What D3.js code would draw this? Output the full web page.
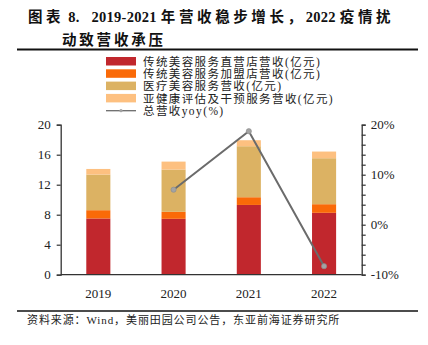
<!DOCTYPE html>
<html>
<head>
<meta charset="utf-8">
<script src="https://cdn.jsdelivr.net/npm/d3@7"></script>
<style>
  body { margin: 0; background: #fff; }
  text { font-family: "Liberation Serif", "Noto Sans CJK SC", serif; white-space: pre; }
</style>
</head>
<body>
<div id="chart"></div>
<script>
const width = 428;
const height = 345;

// data
const years = ["2019", "2020", "2021", "2022"];
const directStore = [7.5, 7.45, 9.3, 8.25];
const franchise = [1.1, 0.93, 1.03, 1.15];
const medical = [4.75, 5.64, 6.8, 6.13];
const subHealth = [0.75, 1.06, 0.8, 0.89];
const yoy = [null, 7.0, 18.7, -8.3];

const seriesNames = [
  "传统美容服务直营店营收(亿元)",
  "传统美容服务加盟店营收(亿元)",
  "医疗美容服务营收(亿元)",
  "亚健康评估及干预服务营收(亿元)"
];
const lineName = "总营收yoy(%)";
const colors = ["#c1272d", "#fa6a08", "#dcb263", "#fdc080"];
const leftTicks = [0, 4, 8, 12, 16, 20];
const rightTicks = [-10, 0, 10, 20];

const svg = d3.select("#chart")
    .append("svg")
    .attr("width", width)
    .attr("height", height);

// title, CJK parts are spaced wider than the latin parts
const titleParts = [
  ["图表", true], [" 8.", false], ["   2019-2021 ", false], ["年营收稳步增长，", true],
  ["2022 ", false], ["疫情扰", true]
];
const title = svg.append("g").attr("font-weight", "bold").attr("font-size", 14.5).attr("fill", "#111");
const t1 = title.append("text").attr("x", 28).attr("y", 22);
titleParts.forEach(p => {
  t1.append("tspan").attr("letter-spacing", p[1] ? 3.6 : 0.3).text(p[0]);
});
title.append("text").attr("x", 62).attr("y", 45)
    .attr("letter-spacing", 2.8)
    .text("动致营收承压");

svg.append("line")
    .attr("x1", 17).attr("x2", 418).attr("y1", 49.5).attr("y2", 49.5)
    .attr("stroke", "#111").attr("stroke-width", 2);
svg.append("line")
    .attr("x1", 17).attr("x2", 418).attr("y1", 311).attr("y2", 311)
    .attr("stroke", "#111").attr("stroke-width", 1.5);

svg.append("text")
    .attr("x", 27).attr("y", 324)
    .attr("font-size", 11).attr("fill", "#222")
    .attr("letter-spacing", 0.9)
    .text("资料来源：Wind，美丽田园公司公告，东亚前海证券研究所");

// scales
const plotL = 60.7, plotR = 361.7, plotT = 124.7, plotB = 274.7;

const x = d3.scaleBand()
    .domain(years)
    .range([plotL, plotR])
    .paddingInner(0.68)
    .paddingOuter(0.34);

const y = d3.scaleLinear().domain([0, 20]).range([plotB, plotT]);
const y2 = d3.scaleLinear().domain([-10, 20]).range([plotB, plotT]);

// stacked bars
const table = years.map((yr, i) => ({
  year: yr, s0: directStore[i], s1: franchise[i], s2: medical[i], s3: subHealth[i]
}));
const stack = d3.stack().keys(["s0", "s1", "s2", "s3"])(table);

svg.append("g")
  .selectAll("g")
  .data(stack)
  .enter()
  .append("g")
  .attr("fill", (d, i) => colors[i])
  .selectAll("rect")
  .data(d => d)
  .enter()
  .append("rect")
  .attr("x", d => x(d.data.year))
  .attr("width", x.bandwidth())
  .attr("y", d => y(d[1]))
  .attr("height", d => y(d[0]) - y(d[1]));

// axes
const axisColor = "#333";
const leftAxis = svg.append("g")
    .attr("transform", `translate(${plotL},0)`)
    .call(d3.axisLeft(y).tickValues(leftTicks).tickSize(4).tickPadding(6));
const rightAxis = svg.append("g")
    .attr("transform", `translate(${plotR},0)`)
    .call(d3.axisRight(y2).tickValues(d3.range(-10, 21, 2)).tickSize(4).tickPadding(5)
      .tickFormat(d => rightTicks.includes(d) ? d + "%" : ""));
const bottomAxis = svg.append("g")
    .attr("transform", `translate(0,${plotB})`)
    .call(d3.axisBottom(x).tickSize(0).tickPadding(14));

[leftAxis, rightAxis, bottomAxis].forEach(a => {
  a.select(".domain").attr("stroke", axisColor).attr("stroke-width", 1.3);
  a.selectAll(".tick line").attr("stroke", axisColor).attr("stroke-width", 1.2);
  a.selectAll("text")
    .attr("font-family", "Liberation Serif")
    .attr("font-size", 13)
    .attr("fill", "#222");
});
bottomAxis.select(".domain").attr("d", `M${plotL},0H${plotR}`);

// yoy line
const pts = years.map((yr, i) => ({ year: yr, v: yoy[i] })).filter(d => d.v !== null);
const line = d3.line()
    .x(d => x(d.year) + x.bandwidth() / 2)
    .y(d => y2(d.v));

svg.append("path")
    .datum(pts)
    .attr("d", line)
    .attr("fill", "none")
    .attr("stroke", "#6b6b6b")
    .attr("stroke-width", 2);

svg.selectAll(".dot")
    .data(pts)
    .enter()
    .append("circle")
    .attr("cx", d => x(d.year) + x.bandwidth() / 2)
    .attr("cy", d => y2(d.v))
    .attr("r", 2.6)
    .attr("fill", "#a3a3a3")
    .attr("stroke", "#8a8a8a")
    .attr("stroke-width", 0.6);

// legend
const legend = svg.append("g").attr("transform", "translate(106,57)");
const rowH = 12.3;
seriesNames.forEach((name, i) => {
  const g = legend.append("g").attr("transform", `translate(0,${i * rowH})`);
  g.append("rect").attr("width", 30).attr("height", 8.5).attr("fill", colors[i]);
  g.append("text").attr("x", 37).attr("y", 8.8)
    .attr("font-size", 11.5).attr("letter-spacing", 1.4).attr("fill", "#222")
    .text(name);
});
const lg = legend.append("g").attr("transform", `translate(0,${4 * rowH})`);
lg.append("line").attr("x1", 0).attr("x2", 30).attr("y1", 4.5).attr("y2", 4.5)
  .attr("stroke", "#6b6b6b").attr("stroke-width", 1.3);
lg.append("circle").attr("cx", 15).attr("cy", 4.5).attr("r", 1.6).attr("fill", "#a3a3a3");
lg.append("text").attr("x", 37).attr("y", 8.8)
  .attr("font-size", 11.5).attr("letter-spacing", 1.4).attr("fill", "#222")
  .text(lineName);
</script>
</body>
</html>
